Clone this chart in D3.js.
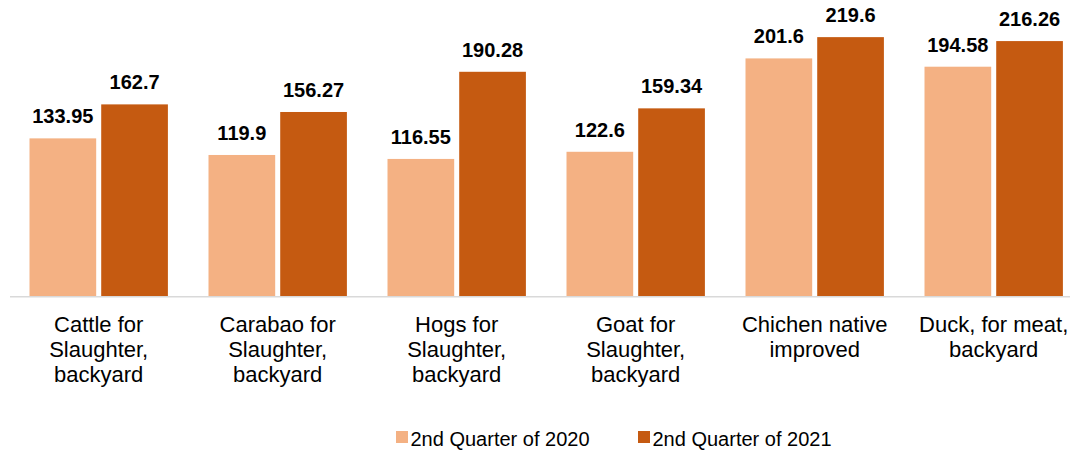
<!DOCTYPE html>
<html><head><meta charset="utf-8">
<script src="https://cdn.jsdelivr.net/npm/d3@7"></script>
<style>body{margin:0;background:#fff}svg{display:block}text{font-family:"Liberation Sans",Arial,sans-serif}</style>
</head><body><svg id="c" width="1070" height="453"></svg>
<script>
const categories = [
  ["Cattle for","Slaughter,","backyard"],
  ["Carabao for","Slaughter,","backyard"],
  ["Hogs for","Slaughter,","backyard"],
  ["Goat for","Slaughter,","backyard"],
  ["Chichen native","improved"],
  ["Duck, for meat,","backyard"]
];
const series = ["2nd Quarter of 2020","2nd Quarter of 2021"];
const values2020 = [133.95,119.9,116.55,122.6,201.6,194.58];
const values2021 = [162.7,156.27,190.28,159.34,219.6,216.26];
const labels2020 = ["133.95","119.9","116.55","122.6","201.6","194.58"];
const labels2021 = ["162.7","156.27","190.28","159.34","219.6","216.26"];
const colors = ["#F4B183","#C55A11"];

const svg = d3.select("#c");
const idx = d3.range(categories.length);
const x0 = d3.scaleBand().domain(idx).range([9.2, 1083.2]);
const x1 = d3.scaleBand().domain([0,1]).range([20.3, 158.7]).paddingInner(0.07);
const y = d3.scaleLinear().domain([0,250]).range([296.7, 1.2]);

const data = [values2020, values2021];
const labs = [labels2020, labels2021];

const g = svg.append("g");
idx.forEach(i => {
  const gg = g.append("g").attr("transform", `translate(${x0(i)},0)`);
  [0,1].forEach(s => {
    gg.append("rect")
      .attr("x", x1(s)).attr("width", x1.bandwidth())
      .attr("y", y(data[s][i])).attr("height", y(0) - y(data[s][i]))
      .attr("fill", colors[s]);
    gg.append("text")
      .attr("x", x1(s) + x1.bandwidth()/2)
      .attr("y", y(data[s][i]) - 15)
      .attr("text-anchor","middle")
      .attr("font-size", 20).attr("font-weight","bold").attr("fill","#000")
      .text(labs[s][i]);
  });
});

svg.append("line").attr("x1", 10).attr("x2", 1070).attr("y1", 296.7).attr("y2", 296.7)
  .attr("stroke","#D9D9D9").attr("stroke-width",1.5);

idx.forEach(i => {
  const t = svg.append("text").attr("text-anchor","middle").attr("font-size",22).attr("fill","#000");
  categories[i].forEach((line,k) => {
    t.append("tspan").attr("x", x0(i) + x0.bandwidth()/2).attr("y", 331.7 + k*25).text(line);
  });
});

const legX = [396, 638];
series.forEach((s,k) => {
  svg.append("rect").attr("x", legX[k]).attr("y", 431).attr("width", 12).attr("height", 12).attr("fill", colors[k]);
  svg.append("text").attr("x", legX[k] + 14.5).attr("y", 446).attr("font-size", 20).attr("fill","#000").text(s);
});
</script></body></html>
